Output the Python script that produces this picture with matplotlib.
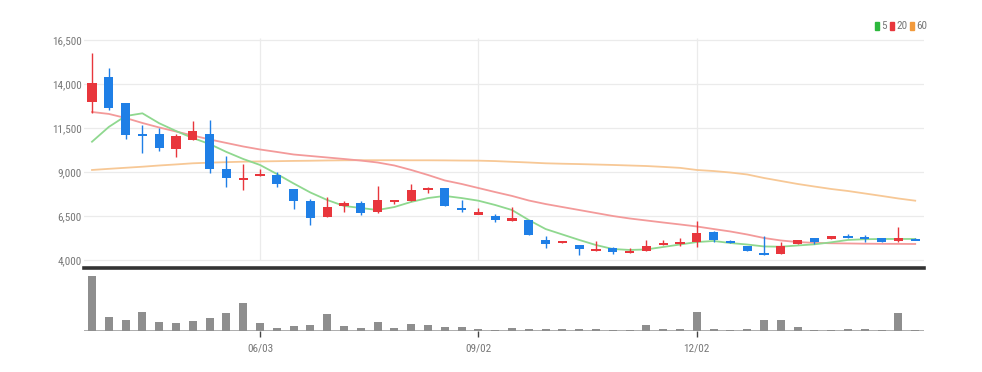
import matplotlib
matplotlib.use("Agg")
import matplotlib.pyplot as plt
from matplotlib.patches import Rectangle
from matplotlib import font_manager as fm
import numpy as np

# ---------------- data ----------------
opens  = [13000, 14420, 12900, 11160, 11140, 10310, 10820, 11140, 9170, 8550,
          8810, 8830, 8020, 7350, 6460, 7090, 7250, 6710, 7310, 7350,
          8000, 8080, 6940, 6600, 6520, 6230, 6270, 5140, 4950, 4870,
          4530, 4665, 4400, 4510, 4870, 4925, 5040, 5610, 5060, 4810,
          4380, 4325, 4890, 5235, 5210, 5325, 5290, 5235, 5080, 5195]
highs  = [15760, 14890, 12920, 11670, 11520, 11160, 11900, 11950, 9910, 9450,
          9170, 9020, 8030, 7450, 7600, 7350, 7350, 8200, 7430, 8320,
          8150, 8090, 7410, 6940, 6610, 7030, 6280, 5360, 5080, 4880,
          5080, 4740, 4665, 5140, 5140, 5235, 6235, 5650, 5140, 4820,
          5380, 5040, 5150, 5240, 5350, 5480, 5420, 5250, 5890, 5235]
lows   = [12350, 12520, 10880, 10080, 10190, 9870, 10800, 8940, 8170, 7980,
          8800, 8170, 6900, 5990, 6440, 6750, 6560, 6650, 7180, 7340,
          7780, 7060, 6750, 6590, 6180, 6220, 5410, 4665, 4940, 4285,
          4520, 4325, 4390, 4500, 4860, 4810, 4755, 5005, 4960, 4500,
          4295, 4320, 4885, 4890, 5205, 5245, 5005, 5035, 5040, 5115]
closes = [14070, 12650, 11100, 11050, 10380, 11060, 11330, 9150, 8680, 8640,
          8890, 8300, 7350, 6400, 7030, 7220, 6650, 7410, 7410, 7980,
          8110, 7070, 6900, 6690, 6270, 6370, 5420, 4910, 5060, 4610,
          4610, 4440, 4470, 4810, 4925, 5005, 5515, 5140, 4965, 4510,
          4300, 4810, 5140, 5040, 5345, 5250, 5210, 5040, 5235, 5120]
volumes = [553, 143, 110, 193, 93, 77, 100, 127, 183, 283,
           77, 27, 47, 60, 167, 47, 27, 93, 30, 67,
           60, 43, 43, 23, 13, 27, 23, 23, 17, 17,
           23, 10, 10, 60, 20, 20, 190, 23, 10, 20,
           113, 107, 40, 7, 7, 20, 20, 10, 183, 10]
ma5 = [10720, 11560, 12180, 12335, 11770, 11330, 10930, 10590, 10140, 9740,
       9400, 8890, 8350, 7835, 7410, 7070, 6955, 6840, 7010, 7300,
       7520, 7640, 7520, 7370, 7125, 6840, 6270, 5760, 5450, 5140,
       4850, 4625, 4570, 4600, 4740, 4880, 5020, 5080, 4965, 4880,
       4770, 4755, 4825, 4890, 5005, 5140, 5180, 5195, 5195, 5195]
ma20 = [12410, 12300, 12070, 11785, 11530, 11300, 11075, 10850, 10650, 10450,
        10280, 10140, 9995, 9910, 9825, 9740, 9650, 9540, 9370, 9115,
        8830, 8520, 8320, 8090, 7860, 7640, 7380, 7180, 7010, 6840,
        6670, 6500, 6360, 6245, 6130, 6020, 5905, 5760, 5620, 5450,
        5250, 5110, 5020, 4975, 4950, 4940, 4925, 4920, 4915, 4910]
ma60 = [9115, 9180, 9240, 9300, 9370, 9430, 9495, 9530, 9560, 9585,
        9600, 9615, 9630, 9640, 9655, 9665, 9670, 9670, 9670, 9665,
        9665, 9660, 9650, 9645, 9620, 9580, 9540, 9495, 9470, 9450,
        9425, 9400, 9370, 9340, 9290, 9235, 9115, 9055, 8970, 8860,
        8660, 8490, 8320, 8175, 8035, 7920, 7780, 7640, 7495, 7370]
date_ticks = [10, 23, 36]
date_labels = ["06/03", "09/02", "12/02"]
price_ticks = [4000, 6500, 9000, 11500, 14000, 16500]
legend_labels = ["5", "20", "60"]

# ---------------- fonts ----------------
def pick_font():
    for fam in ["Liberation Sans Narrow", "Roboto Condensed", "Open Sans Condensed",
                "Noto Sans Condensed", "DejaVu Sans Condensed", "Arial Narrow"]:
        try:
            fm.findfont(fm.FontProperties(family=fam), fallback_to_default=False)
            return fm.FontProperties(family=fam)
        except Exception:
            pass
    for f in fm.fontManager.ttflist:
        nm = (f.fname + f.name).lower()
        if ("narrow" in nm or "condensed" in nm) and "bold" not in nm.split("/")[-1] \
                and "italic" not in nm and "oblique" not in nm:
            return fm.FontProperties(fname=f.fname)
    return fm.FontProperties(family="Liberation Sans")

BASEFP = pick_font()
def fp(size):
    p = BASEFP.copy()
    p.set_size(size)
    return p

# ---------------- style ----------------
W, H = 982, 372
UP = "#e8363c"
DOWN = "#1f7fe6"
C5, C20, C60 = "#8fd88f", "#f39a9a", "#f7c896"
LEG = ["#2db83d", "#e8363c", "#f29a3c"]
TXT = "#777777"

fig = plt.figure(figsize=(W / 100, H / 100), dpi=100)
fig.patch.set_facecolor("white")

left, right = 83.6, 923.6
def axrect(top, bottom):
    return [left / W, 1 - bottom / H, (right - left) / W, (bottom - top) / H]

ax = fig.add_axes(axrect(30, 268))
axv = fig.add_axes(axrect(268, 331))

n = len(opens)
x = np.arange(n)
ppx = 2500 / 44.0  # price per pixel
ymin = 4000 - 8 * ppx
ymax = 4000 + 230 * ppx

for a in (ax, axv):
    a.set_xlim(-0.5, n - 0.5)
    for s in a.spines.values():
        s.set_visible(False)
    a.tick_params(length=0)
    a.set_facecolor("none")

ax.set_ylim(ymin, ymax)
ax.set_yticks(price_ticks)
ax.set_yticklabels([f"{v:,}" for v in price_ticks], fontproperties=fp(8), color=TXT)
ax.tick_params(axis="y", pad=1.5)
ax.set_xticks([])
for v in price_ticks:
    ax.axhline(v, color="#ebebeb", lw=0.9, zorder=0)
ax.vlines(date_ticks, 4000, 16500 + 2 * ppx, color="#ebebeb", lw=0.9, zorder=0)

# moving averages
ax.plot(x, ma60, color=C60, lw=1.3, zorder=1)
ax.plot(x, ma20, color=C20, lw=1.3, zorder=1)
ax.plot(x, ma5, color=C5, lw=1.3, zorder=1)

# candles
minb = 2.2 * ppx
for i in range(n):
    o, h, l, c = opens[i], highs[i], lows[i], closes[i]
    col = UP if c >= o else DOWN
    ax.vlines(i, l, h, color=col, lw=1.0, zorder=2)
    lo, hi = min(o, c), max(o, c)
    if hi - lo < minb:
        mid = (hi + lo) / 2
        lo, hi = mid - minb / 2, mid + minb / 2
    ax.bar(i, hi - lo, bottom=lo, width=0.54, color=col, zorder=3, linewidth=0)

# separator line
ax.axhline(ymin, color="#333333", lw=2.6, zorder=5, clip_on=False)

# volume
vmax = max(volumes)
axv.set_ylim(0, vmax * 63 / 55.3)
axv.axhline(0, color="#a0a0a0", lw=1.2, zorder=1)
axv.bar(x, volumes, width=0.48, color="#8e8e8e", linewidth=0, zorder=2)
axv.set_yticks([])
axv.set_xticks(date_ticks)
axv.set_xticklabels(date_labels, fontproperties=fp(8), color=TXT)
axv.tick_params(axis="x", length=4, width=1.0, color="#444444", pad=5, direction="out")

# legend
lx = 875
for lab, col in zip(legend_labels, LEG):
    fig.patches.append(Rectangle((lx / W, 1 - 30 / H), 4 / W, 8 / H,
                                 transform=fig.transFigure, color=col))
    fig.text((lx + 6) / W, 1 - 26 / H, lab, fontproperties=fp(8),
             color=TXT, va="center", ha="left")
    lx += 6 + 5 * len(lab) + 4

fig.savefig("out.png", dpi=100, facecolor="white")
